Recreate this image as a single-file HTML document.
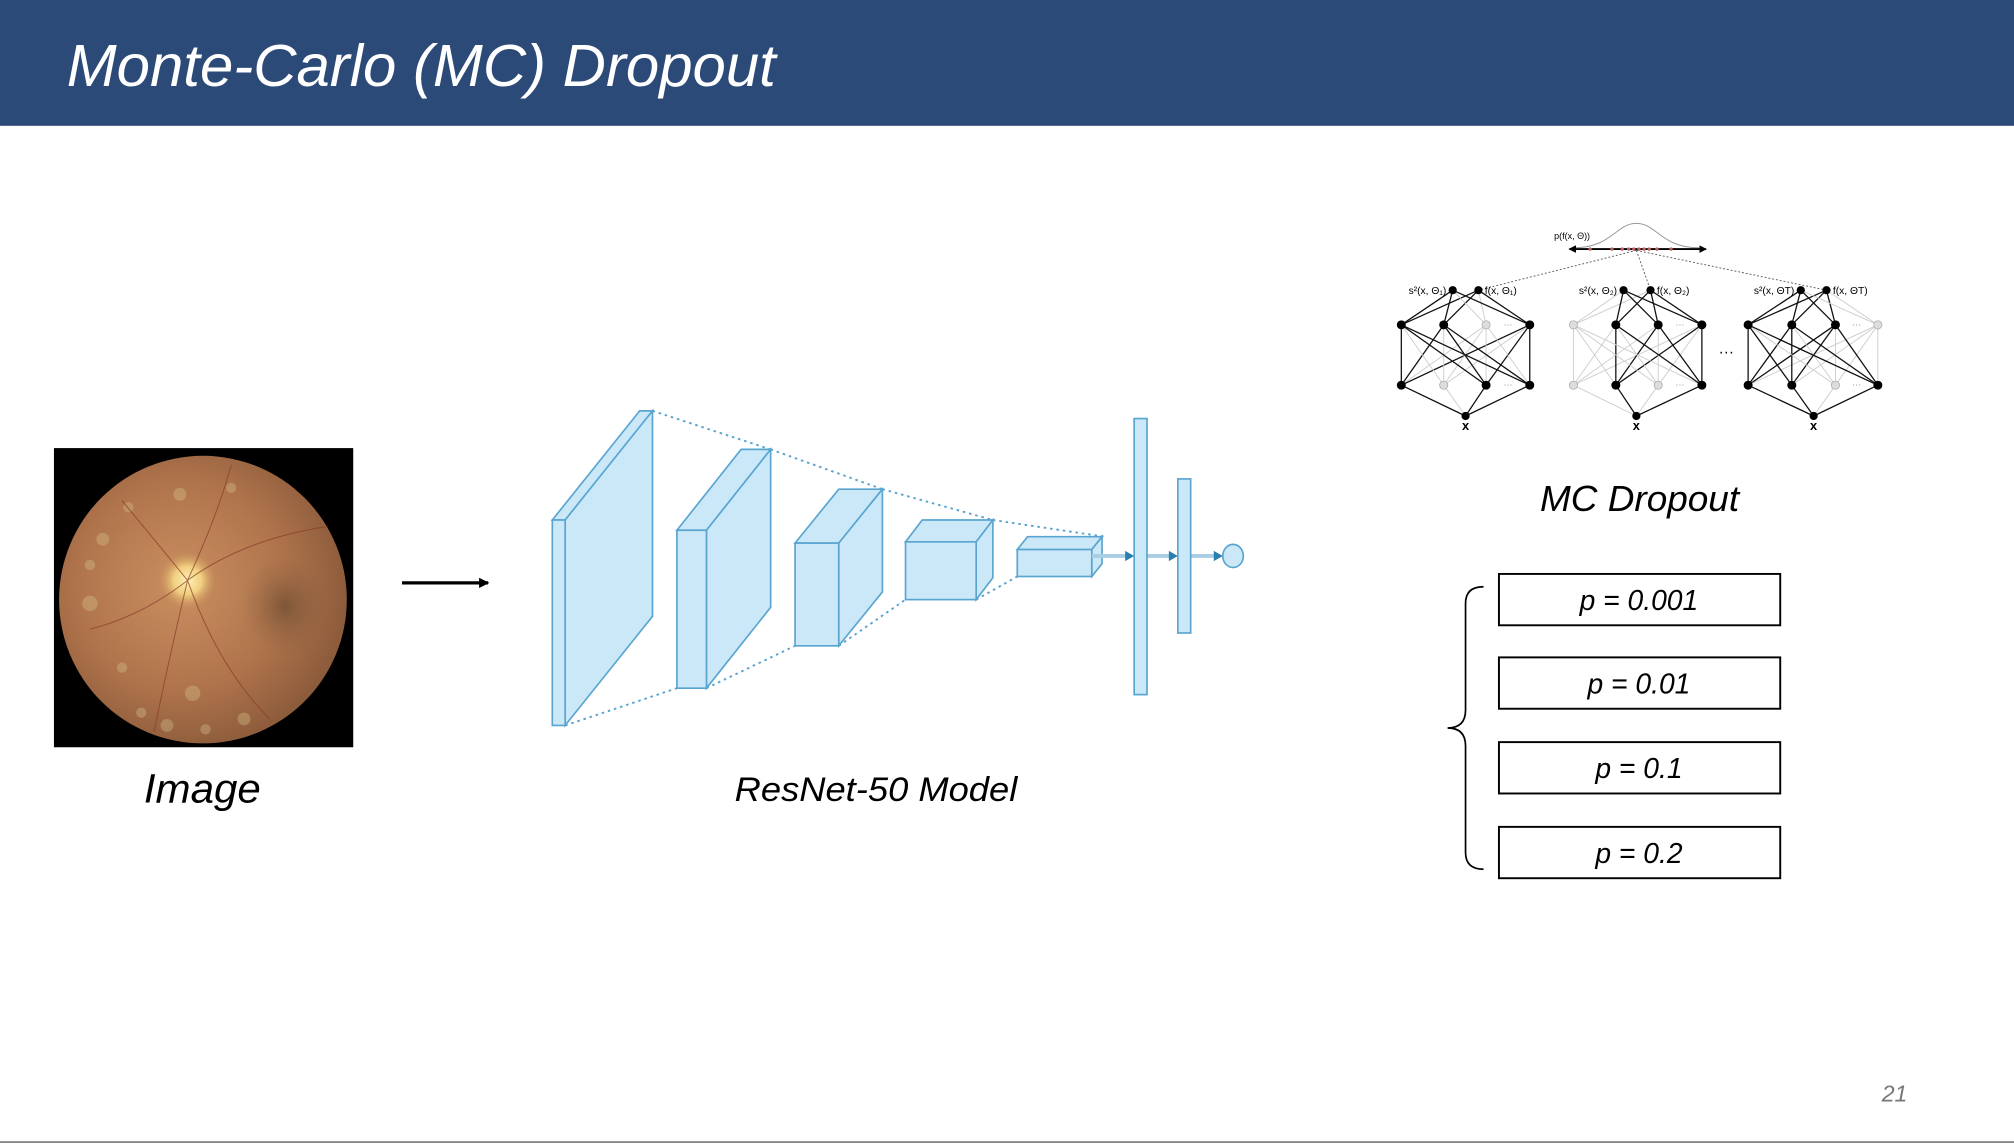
<!DOCTYPE html>
<html><head><meta charset="utf-8"><style>
html,body{margin:0;padding:0;background:#fff;}
svg{display:block;}
text{font-family:"Liberation Sans",sans-serif;}
</style></head><body>
<svg id="s" width="2014" height="1144" viewBox="0 0 1568 891" preserveAspectRatio="none" xmlns="http://www.w3.org/2000/svg">
<defs>
<radialGradient id="eye" cx="0.42" cy="0.45" r="0.6">
<stop offset="0" stop-color="#c99060"/>
<stop offset="0.6" stop-color="#b0744c"/>
<stop offset="1" stop-color="#8a5a3a"/>
</radialGradient>
<radialGradient id="disc" cx="0.5" cy="0.5" r="0.5">
<stop offset="0" stop-color="#fff2b0"/>
<stop offset="0.5" stop-color="#f0cf80"/>
<stop offset="1" stop-color="#d09a60" stop-opacity="0"/>
</radialGradient>
<radialGradient id="mac" cx="0.5" cy="0.5" r="0.5">
<stop offset="0" stop-color="#6a4a30" stop-opacity="0.7"/>
<stop offset="1" stop-color="#8a6040" stop-opacity="0"/>
</radialGradient>
<marker id="ah" markerWidth="8" markerHeight="8" refX="7" refY="4" orient="auto" markerUnits="userSpaceOnUse"><path d="M0,0 L8,4 L0,8 z" fill="#000"/></marker>
<marker id="kh" markerWidth="6" markerHeight="6" refX="5" refY="3" orient="auto-start-reverse" markerUnits="userSpaceOnUse"><path d="M0,0 L6,3 L0,6 z" fill="#000"/></marker>
</defs>
<rect x="0" y="0" width="1568" height="98" fill="#2c4a78"/>
<text x="52" y="67" font-size="46" font-style="italic" fill="#fff" textLength="552" lengthAdjust="spacingAndGlyphs">Monte-Carlo (MC) Dropout</text>
<line x1="0" y1="889.5" x2="1568" y2="889.5" stroke="#888" stroke-width="1.5"/>

<!-- fundus -->
<rect x="42" y="349" width="233" height="233" fill="#000"/>
<circle cx="158" cy="467" r="112" fill="url(#eye)"/>
<ellipse cx="222" cy="472" rx="35" ry="40" fill="url(#mac)"/>
<g fill="#d8c890" opacity="0.35">
<circle cx="70" cy="470" r="6"/><circle cx="80" cy="420" r="5"/><circle cx="95" cy="520" r="4"/><circle cx="150" cy="540" r="6"/>
<circle cx="130" cy="565" r="5"/><circle cx="160" cy="568" r="4"/><circle cx="190" cy="560" r="5"/><circle cx="110" cy="555" r="4"/>
<circle cx="140" cy="385" r="5"/><circle cx="180" cy="380" r="4"/><circle cx="100" cy="395" r="4"/><circle cx="70" cy="440" r="4"/>
</g>
<circle cx="146" cy="452" r="22" fill="url(#disc)"/>
<g stroke="#8a3a2a" stroke-width="0.8" fill="none" opacity="0.7">
<path d="M146,452 Q120,420 95,390"/><path d="M146,452 Q170,400 180,362"/><path d="M146,452 Q190,420 255,410"/>
<path d="M146,452 Q170,520 210,560"/><path d="M146,452 Q110,480 70,490"/><path d="M146,452 Q130,520 120,570"/>
</g>
<text x="112" y="625" font-size="32" font-style="italic" fill="#000" textLength="91" lengthAdjust="spacingAndGlyphs">Image</text>
<line x1="313" y1="454" x2="380" y2="454" stroke="#000" stroke-width="2.5" marker-end="url(#ah)"/>

<!-- resnet -->
<g fill="#cbe8f9" stroke="#5aa5cf" stroke-width="1.3" id="net"></g>
<g stroke="#5aa5cf" stroke-width="1.5" stroke-dasharray="2,3" fill="none">
<line x1="508" y1="320" x2="600" y2="350"/><line x1="440" y1="565" x2="527" y2="536"/>
<line x1="600" y1="350" x2="687" y2="381"/><line x1="550" y1="536" x2="619" y2="503"/>
<line x1="687" y1="381" x2="773" y2="405"/><line x1="653" y1="503" x2="705" y2="467"/>
<line x1="773" y1="405" x2="860" y2="418"/><line x1="760" y1="467" x2="792" y2="449"/>
</g>
<g stroke="#a9cde3" stroke-width="3">
<line x1="850" y1="433" x2="878" y2="433"/><line x1="893" y1="433" x2="912" y2="433"/><line x1="927" y1="433" x2="946" y2="433"/>
</g>
<g fill="#2a7fb0">
<path d="M876,429 L883,433 L876,437z"/><path d="M910,429 L917,433 L910,437z"/><path d="M945,429 L952,433 L945,437z"/>
</g>
<rect x="883" y="326" width="10" height="215" fill="#cbe8f9" stroke="#5aa5cf" stroke-width="1.3"/>
<rect x="917" y="373" width="10" height="120" fill="#cbe8f9" stroke="#5aa5cf" stroke-width="1.3"/>
<ellipse cx="960" cy="433" rx="8" ry="9" fill="#cbe8f9" stroke="#5aa5cf" stroke-width="1.3"/>
<text x="572" y="624" font-size="27" font-style="italic" fill="#000" textLength="220" lengthAdjust="spacingAndGlyphs">ResNet-50 Model</text>

<!-- MC dropout figure -->
<g id="mc"></g>
<text x="1199" y="398" font-size="28" font-style="italic" fill="#000" textLength="155" lengthAdjust="spacingAndGlyphs">MC Dropout</text>

<!-- boxes -->
<g fill="#fff" stroke="#000" stroke-width="1.5">
<rect x="1167" y="447" width="219" height="40"/><rect x="1167" y="512" width="219" height="40"/>
<rect x="1167" y="578" width="219" height="40"/><rect x="1167" y="644" width="219" height="40"/>
</g>
<g font-size="22" font-style="italic" text-anchor="middle" fill="#000">
<text x="1276" y="475">p = 0.001</text><text x="1276" y="540">p = 0.01</text>
<text x="1276" y="606">p = 0.1</text><text x="1276" y="672">p = 0.2</text>
</g>
<path d="M1155,457 Q1141,457 1141,470 L1141,553 Q1141,567 1127,567 Q1141,567 1141,581 L1141,664 Q1141,677 1155,677" fill="none" stroke="#000" stroke-width="1.3"/>
<text x="1465" y="858" font-size="18" font-style="italic" fill="#777">21</text>
</svg>
<script>
var NS="http://www.w3.org/2000/svg";
function el(p,t,a,txt){var e=document.createElementNS(NS,t);for(var k in a)e.setAttribute(k,a[k]);if(txt)e.textContent=txt;p.appendChild(e);return e;}
var net=document.getElementById("net");
var boxes=[[430,405,10,160,68,-85],[527,413,23,123,50,-63],[619,423,34,80,34,-42],[705,422,55,45,13,-17],[792,428,58,21,8,-10]];
boxes.forEach(function(b){var x=b[0],y=b[1],w=b[2],h=b[3],dx=b[4],dy=b[5];
el(net,"path",{d:"M"+x+","+y+" L"+(x+dx)+","+(y+dy)+" L"+(x+w+dx)+","+(y+dy)+" L"+(x+w)+","+y+"z"});
el(net,"path",{d:"M"+(x+w)+","+y+" L"+(x+w+dx)+","+(y+dy)+" L"+(x+w+dx)+","+(y+h+dy)+" L"+(x+w)+","+(y+h)+"z"});
el(net,"rect",{x:x,y:y,width:w,height:h});});
var mc=document.getElementById("mc");
el(mc,"path",{d:"M1225,193 C1255,193 1258,174 1274,174 C1290,174 1293,193 1323,193",fill:"none",stroke:"#999","stroke-width":0.8});
el(mc,"line",{x1:1222,y1:194,x2:1328,y2:194,stroke:"#000","stroke-width":1.5,"marker-start":"url(#kh)","marker-end":"url(#kh)"});
[1238,1255,1263,1268,1272,1276,1280,1284,1290,1301].forEach(function(x){el(mc,"circle",{cx:x,cy:194,r:1.3,fill:"#c06060"});});
el(mc,"text",{x:1210,y:186,"font-size":7,"font-family":"Liberation Serif"},"p(f(x, Θ))");
var nets=[
 {h:[1091,1124,1157,1191],t:[1131,1151],x:1141,g1:[2],g2:[1],s:"1"},
 {h:[1225,1258,1291,1325],t:[1264,1285],x:1274,g1:[0],g2:[0,2],s:"2"},
 {h:[1361,1395,1429,1462],t:[1402,1422],x:1412,g1:[3],g2:[2],s:"T"}];
nets.forEach(function(n){
 el(mc,"line",{x1:1274,y1:195,x2:n.t[1],y2:226,stroke:"#555","stroke-width":0.7,"stroke-dasharray":"1.5,1.5"});
 var yT=226,y1=253,y2=300,yx=324;
 function ln(a,b,c,d,on){el(mc,"line",{x1:a,y1:b,x2:c,y2:d,stroke:on?"#111":"#ccc","stroke-width":on?1:0.7});}
 n.h.forEach(function(x,i){ln(n.x,yx,x,y2,n.g2.indexOf(i)<0);});
 n.h.forEach(function(a,i){n.h.forEach(function(b,j){ln(a,y2,b,y1,n.g2.indexOf(i)<0&&n.g1.indexOf(j)<0);});});
 n.h.forEach(function(x,i){n.t.forEach(function(t){ln(x,y1,t,yT,n.g1.indexOf(i)<0);});});
 n.h.forEach(function(x,i){var g=n.g1.indexOf(i)>=0;el(mc,"circle",{cx:x,cy:y1,r:3.2,fill:g?"#ddd":"#000",stroke:g?"#aaa":"#000","stroke-width":0.6});
   g=n.g2.indexOf(i)>=0;el(mc,"circle",{cx:x,cy:y2,r:3.2,fill:g?"#ddd":"#000",stroke:g?"#aaa":"#000","stroke-width":0.6});});
 n.t.forEach(function(t){el(mc,"circle",{cx:t,cy:yT,r:3.2,fill:"#000"});});
 el(mc,"circle",{cx:n.x,cy:yx,r:3.2,fill:"#000"});
 el(mc,"text",{x:n.x,y:yx+11,"font-size":10,"font-weight":"bold","text-anchor":"middle","font-family":"Liberation Serif"},"x");
 el(mc,"text",{x:(n.h[2]+n.h[3])/2,y:y1+2,"font-size":7,"text-anchor":"middle",fill:"#888"},"···");
 el(mc,"text",{x:(n.h[2]+n.h[3])/2,y:y2+2,"font-size":7,"text-anchor":"middle",fill:"#888"},"···");
 el(mc,"text",{x:n.t[0]-5,y:229,"font-size":8,"text-anchor":"end","font-family":"Liberation Serif"},"s²(x, Θ"+(n.s=="T"?"T":n.s=="1"?"₁":"₂")+")");
 el(mc,"text",{x:n.t[1]+5,y:229,"font-size":8,"font-family":"Liberation Serif"},"f(x, Θ"+(n.s=="T"?"T":n.s=="1"?"₁":"₂")+")");
});
el(mc,"text",{x:1344,y:278,"font-size":12,"text-anchor":"middle"},"···");
</script>
</body></html>
